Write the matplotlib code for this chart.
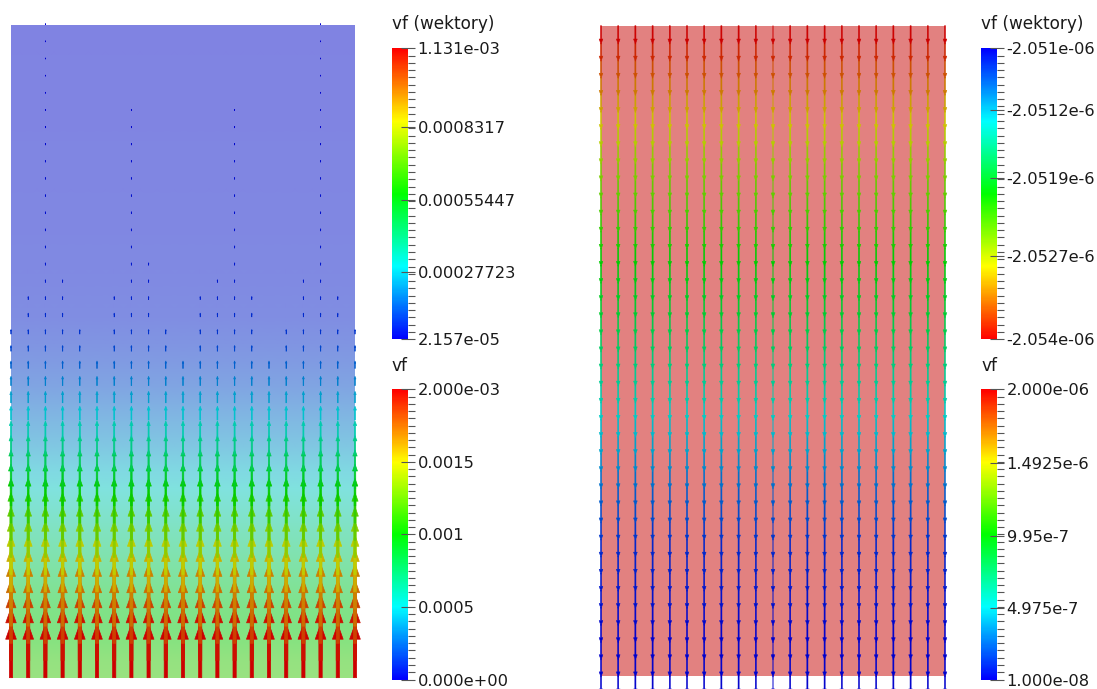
import matplotlib
matplotlib.use("Agg")
import matplotlib.pyplot as plt
import numpy as np
from matplotlib.cm import ScalarMappable
from matplotlib.collections import PatchCollection
from matplotlib.colors import LinearSegmentedColormap, Normalize, to_rgb
from matplotlib.patches import FancyArrow
from matplotlib.ticker import FixedLocator

FIG_W, FIG_H = 1097, 689

# glyph grid: 21 columns x 39 rows, unit spacing in data coords
N_COLS = 21
N_ROWS = 39

# left view: |vf| at each row, bottom row first (x 1e-3)
LEFT_VF_MAG = [
    1.131, 1.108, 1.044, 0.982, 0.957, 0.893, 0.832, 0.770, 0.707, 0.643,
    0.581, 0.520, 0.455, 0.395, 0.340, 0.290, 0.240, 0.195, 0.155, 0.120,
    0.095, 0.078, 0.065, 0.057, 0.052, 0.048, 0.045, 0.042, 0.040, 0.038,
    0.035, 0.033, 0.030, 0.028, 0.026, 0.025, 0.024, 0.023, 0.022,
]
# last row (from bottom) where a column still shows glyphs
LEFT_GLYPH_REACH = [20, 22, 38, 23, 20, 18, 22, 33, 24, 20, 18,
                    22, 23, 33, 22, 18, 20, 23, 38, 22, 20]

# right view: vf_y at each row, top row first (x 1e-6)
RIGHT_VF_Y = [
    -2.05356, -2.05341, -2.05326, -2.05311, -2.05296, -2.05284, -2.05272,
    -2.05260, -2.05251, -2.05242, -2.05233, -2.05224, -2.05215, -2.05206,
    -2.05200, -2.05194, -2.05188, -2.05179, -2.05170, -2.05161, -2.05152,
    -2.05143, -2.05134, -2.05125, -2.05116, -2.05107, -2.05098, -2.05089,
    -2.05083, -2.05077, -2.05071, -2.05068, -2.05065, -2.05062, -2.05059,
    -2.05056, -2.05056, -2.05056, -2.05056,
]
RIGHT_VF_BG = 1.99  # x 1e-6, background |vf| (uniform)
RIGHT_SHAFTLESS_COL = 10

# colour bar ranges / labels
LEFT_VEC_RANGE = (2.157e-5, 1.131e-3)
LEFT_VEC_TICKS = [2.157e-5, 0.00027723, 0.00055447, 0.0008317, 1.131e-3]
LEFT_VEC_LABELS = ["2.157e-05", "0.00027723", "0.00055447", "0.0008317", "1.131e-03"]
LEFT_FIELD_RANGE = (0.0, 2e-3)
LEFT_FIELD_TICKS = [0.0, 0.0005, 0.001, 0.0015, 0.002]
LEFT_FIELD_LABELS = ["0.000e+00", "0.0005", "0.001", "0.0015", "2.000e-03"]
RIGHT_VEC_RANGE = (-2.05356e-6, -2.05056e-6)
RIGHT_VEC_TICKS = [-2.05356e-6, -2.0527e-6, -2.0519e-6, -2.0512e-6, -2.05056e-6]
RIGHT_VEC_LABELS = ["-2.054e-06", "-2.0527e-6", "-2.0519e-6", "-2.0512e-6", "-2.051e-06"]
RIGHT_FIELD_RANGE = (1e-8, 2e-6)
RIGHT_FIELD_TICKS = [1e-8, 4.975e-7, 9.95e-7, 1.4925e-6, 2e-6]
RIGHT_FIELD_LABELS = ["1.000e-08", "4.975e-7", "9.95e-7", "1.4925e-6", "2.000e-06"]

RAINBOW = ["#0000ff", "#00ffff", "#00ff00", "#ffff00", "#ff0000"]

LEFT_GLYPH_SCALE = 2750.0     # grid units per unit of vf
RIGHT_GLYPH_SCALE = 5.26e5

rainbow = LinearSegmentedColormap.from_list("rainbow_pv", RAINBOW)
# semi-transparent surface over white
washed = LinearSegmentedColormap.from_list(
    "washed", [0.5 + 0.385 * np.array(to_rgb(c)) for c in RAINBOW])
# lit glyphs come out a bit darker
shaded = LinearSegmentedColormap.from_list(
    "shaded", [0.8 * np.array(to_rgb(c)) for c in RAINBOW])

plt.rcParams["font.family"] = ["DejaVu Sans"]

fig = plt.figure(figsize=(FIG_W / 100, FIG_H / 100), dpi=100)


def px_rect(x0, y0, x1, y1):
    return [x0 / FIG_W, 1 - y1 / FIG_H, (x1 - x0) / FIG_W, (y1 - y0) / FIG_H]


def glyphs(ax, xs, ys, vys, scale, values, cmap, norm, shaft_flags, lw):
    patches = []
    for x, y, vy, has_shaft in zip(xs, ys, vys, shaft_flags):
        length = abs(vy) * scale
        patches.append(FancyArrow(
            x, y, 0, vy * scale,
            width=0.06 * length if has_shaft else 0.0,
            head_width=0.2 * length, head_length=0.28 * length,
            length_includes_head=True))
    pc = PatchCollection(patches, cmap=cmap, norm=norm,
                         edgecolors="face", linewidths=lw)
    pc.set_array(np.asarray(values))
    pc.set_clip_on(False)
    ax.add_collection(pc)


def colorbar(rect, cmap, vrange, ticks, labels, title, title_y):
    cax = fig.add_axes(px_rect(*rect))
    norm = Normalize(*vrange)
    cb = fig.colorbar(ScalarMappable(norm=norm, cmap=cmap), cax=cax)
    cb.outline.set_visible(False)
    cb.set_ticks(ticks, labels=labels)
    cax.yaxis.set_minor_locator(FixedLocator(np.linspace(vrange[0], vrange[1], 41)))
    cax.tick_params(which="major", direction="inout", length=10, width=0.8,
                    color="#555555", pad=2, labelsize=11.7, labelcolor="#1a1a1a")
    cax.tick_params(which="minor", direction="out", length=5, width=0.8,
                    color="#555555")
    fig.text(rect[0] / FIG_W, 1 - title_y / FIG_H, title, fontsize=12.2,
             color="#1a1a1a", ha="left", va="center")


cols = np.arange(N_COLS)
rows = np.arange(N_ROWS)
X, Y = np.meshgrid(cols, rows)

# ---- left view ----
left_mag = np.array(LEFT_VF_MAG) * 1e-3
axl = fig.add_axes(px_rect(11, 24.7, 355, 677.7))
axl.pcolormesh(X, Y, np.repeat(left_mag[:, None], N_COLS, axis=1),
               shading="gouraud", cmap=washed, norm=Normalize(*LEFT_FIELD_RANGE))
keep = Y <= np.array(LEFT_GLYPH_REACH)[None, :]
lx, ly = X[keep], Y[keep]
lv = left_mag[ly]
glyphs(axl, lx, ly, lv, LEFT_GLYPH_SCALE, lv, shaded,
       Normalize(*LEFT_VEC_RANGE), [True] * len(lx), 0.5)
axl.set_xlim(0, N_COLS - 1)
axl.set_ylim(0, N_ROWS - 1)
axl.axis("off")

# ---- right view ----
right_vy = np.array(RIGHT_VF_Y)[::-1] * 1e-6   # bottom row first
axr = fig.add_axes(px_rect(601, 25.7, 945, 675.7))
axr.pcolormesh(X, Y, np.full(X.shape, RIGHT_VF_BG * 1e-6),
               shading="gouraud", cmap=washed, norm=Normalize(*RIGHT_FIELD_RANGE))
rx, ry = X.ravel(), Y.ravel()
rv = right_vy[ry]
glyphs(axr, rx, ry, rv, RIGHT_GLYPH_SCALE, rv, shaded.reversed(),
       Normalize(*RIGHT_VEC_RANGE), rx != RIGHT_SHAFTLESS_COL, 0.35)
axr.set_xlim(0, N_COLS - 1)
axr.set_ylim(0, N_ROWS - 1)
axr.axis("off")

# ---- colour bars ----
colorbar((392, 48.3, 408, 339.3), rainbow, LEFT_VEC_RANGE, LEFT_VEC_TICKS,
         LEFT_VEC_LABELS, "vf (wektory)", 24)
colorbar((392, 389.3, 408, 679.5), rainbow, LEFT_FIELD_RANGE, LEFT_FIELD_TICKS,
         LEFT_FIELD_LABELS, "vf", 366)
colorbar((981, 48.3, 997, 339.3), rainbow.reversed(), RIGHT_VEC_RANGE,
         RIGHT_VEC_TICKS, RIGHT_VEC_LABELS, "vf (wektory)", 24)
colorbar((981, 389.3, 997, 679.5), rainbow, RIGHT_FIELD_RANGE, RIGHT_FIELD_TICKS,
         RIGHT_FIELD_LABELS, "vf", 366)

fig.savefig("out.png", dpi=100)
